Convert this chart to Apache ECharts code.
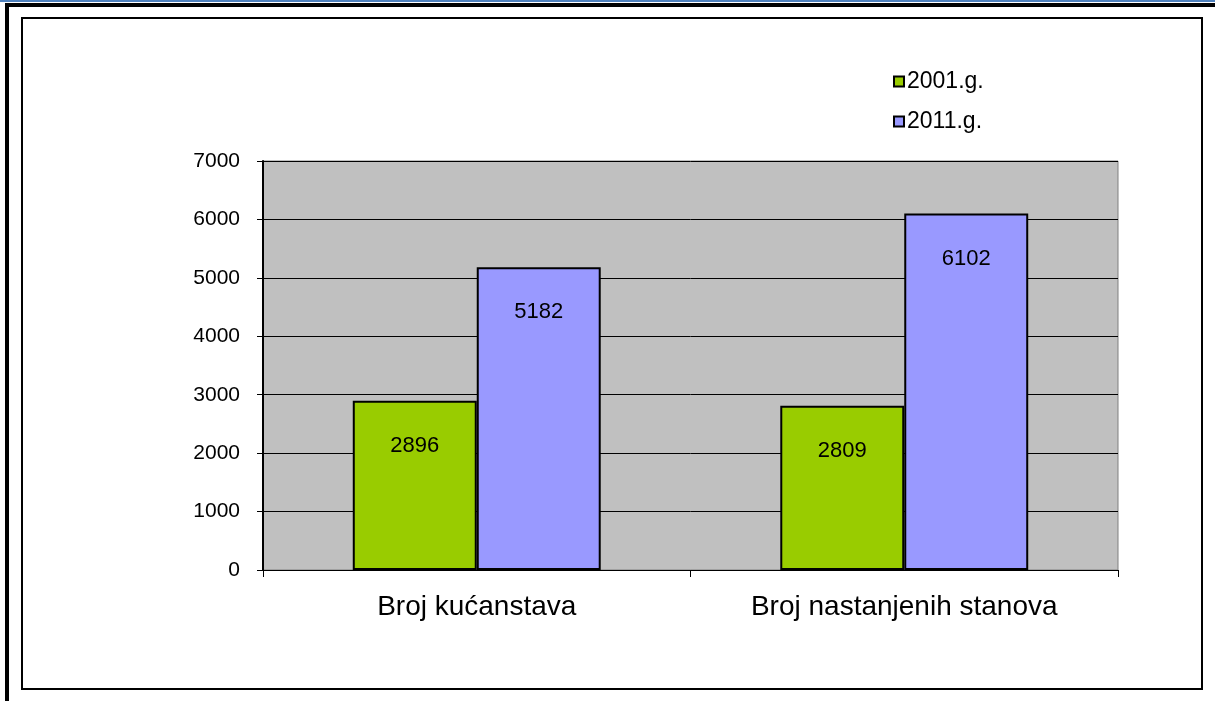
<!DOCTYPE html>
<html lang="hr">
  <head>
    <meta charset="UTF-8" />
    <title>Kućanstva i stanovi</title>
    <style>
      body {
        margin: 0;
        overflow: hidden;
        background: #fff;
      }
    </style>
    <script src="https://cdn.jsdelivr.net/npm/echarts@6/dist/echarts.min.js"></script>
  </head>

  <body>
    <div id="chart" style="width: 1215px; height: 701px"></div>
    <script>
      // podaci
      var categories = ["Broj kućanstava", "Broj nastanjenih stanova"];
      var seriesNames = ["2001.g.", "2011.g."];
      var values2001 = [2896, 2809];
      var values2011 = [5182, 6102];

      var font = "Liberation Sans, Arial, sans-serif";

      var barLabel = {
        show: true,
        position: "insideTop",
        distance: 34,
        color: "#000",
        fontSize: 22,
        fontFamily: font,
      };

      var option = {
        animation: false,
        backgroundColor: "#fff",
        // okviri oko grafikona
        graphic: [
          { type: "rect", shape: { x: 0, y: 0, width: 1215, height: 2 }, style: { fill: "#4F81BD" } },
          { type: "rect", shape: { x: 5, y: 3, width: 1210, height: 4 }, style: { fill: "#000" } },
          { type: "rect", shape: { x: 5, y: 3, width: 4, height: 698 }, style: { fill: "#000" } },
          {
            type: "rect",
            shape: { x: 22, y: 18, width: 1180, height: 671 },
            style: { fill: "none", stroke: "#000", lineWidth: 2 },
          },
        ],
        legend: {
          orient: "vertical",
          left: 888,
          top: 65,
          itemGap: 17,
          itemWidth: 10,
          itemHeight: 10,
          icon: "rect",
          data: seriesNames,
          textStyle: { fontSize: 23, fontFamily: font, color: "#000", padding: [0, 0, 0, -2] },
        },
        grid: {
          left: 263,
          right: 97,
          top: 161,
          bottom: 131,
          show: true,
          backgroundColor: "#C0C0C0",
          borderColor: "#808080",
          borderWidth: 1,
        },
        xAxis: {
          type: "category",
          data: categories,
          axisLine: { lineStyle: { color: "#000", width: 1 } },
          axisTick: { show: true, length: 7, lineStyle: { color: "#000" } },
          axisLabel: { fontSize: 28, fontFamily: font, color: "#000", margin: 23 },
        },
        yAxis: {
          type: "value",
          min: 0,
          max: 7000,
          interval: 1000,
          axisLine: { show: true, lineStyle: { color: "#000", width: 2 } },
          axisTick: { show: true, length: 6, lineStyle: { color: "#000" } },
          axisLabel: {
            fontSize: 21,
            fontFamily: font,
            color: "#000",
            margin: 23,
            formatter: function (v) {
              return String(v);
            },
          },
          splitLine: { lineStyle: { color: "#000", width: 1 } },
        },
        series: [
          {
            name: seriesNames[0],
            type: "bar",
            data: values2001,
            barGap: "0%",
            barCategoryGap: "42%",
            itemStyle: { color: "#99CC00", borderColor: "#000", borderWidth: 2 },
            label: barLabel,
          },
          {
            name: seriesNames[1],
            type: "bar",
            data: values2011,
            itemStyle: { color: "#9999FF", borderColor: "#000", borderWidth: 2 },
            label: barLabel,
          },
        ],
      };

      var myChart = echarts.init(document.getElementById("chart"));
      myChart.setOption(option);
    </script>
  </body>
</html>
